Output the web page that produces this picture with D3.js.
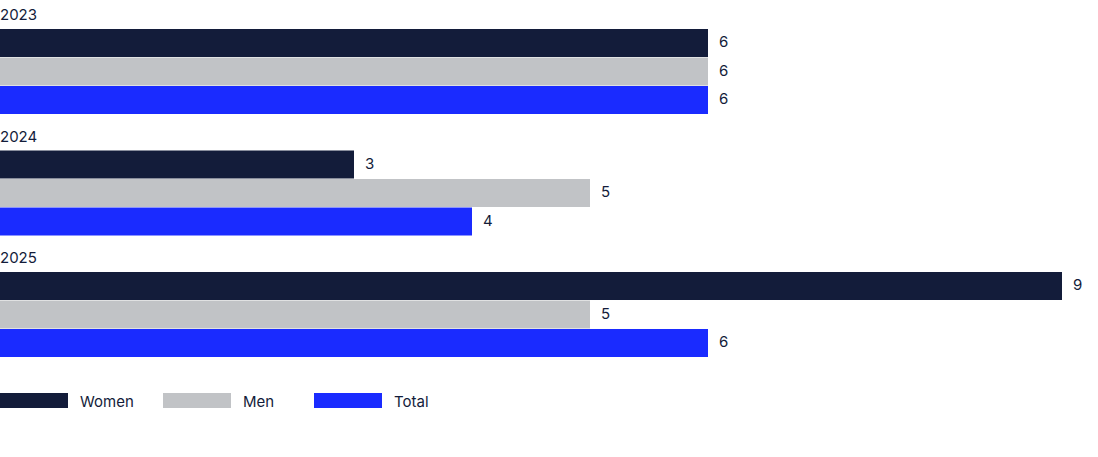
<!DOCTYPE html>
<html>
<head>
<meta charset="utf-8">
<script src="https://cdn.jsdelivr.net/npm/d3@7"></script>
<style>
  body { margin: 0; background: #fff; }
  text { font-family: Inter, "Noto Sans", sans-serif; fill: #131c3a; }
</style>
</head>
<body>
<div id="chart"></div>
<script>
// data
var years = ["2023", "2024", "2025"];
var series = ["Women", "Men", "Total"];
var women = [6, 3, 9];
var men = [6, 5, 5];
var total = [6, 4, 6];
var colors = ["#131c3a", "#c1c3c6", "#1a2bff"];

var svgwidth = 1098;
var svgheight = 457;

var svg = d3.select("#chart").append("svg")
  .attr("width", svgwidth)
  .attr("height", svgheight);

// group positions (each group = year label + three bars)
var yscale = d3.scaleBand()
  .domain(years)
  .range([29, 29 + 3 * 121.5]);

var inner = d3.scaleBand()
  .domain(series)
  .range([0, 85.5]);

var xscale = d3.scaleLinear()
  .domain([0, 9])
  .range([0, 1062]);

var rows = [];
years.forEach(function(y, i) {
  rows.push({year: y, key: "Women", value: women[i]});
  rows.push({year: y, key: "Men", value: men[i]});
  rows.push({year: y, key: "Total", value: total[i]});
});

var color = d3.scaleOrdinal().domain(series).range(colors);

// year labels
svg.selectAll(".year").data(years).enter()
  .append("text")
  .attr("class", "year")
  .attr("x", 0)
  .attr("y", d => yscale(d) - 9)
  .attr("font-size", "15px")
  .text(d => d);

// bars
svg.selectAll("rect.bar").data(rows).enter()
  .append("rect")
  .attr("class", "bar")
  .attr("x", xscale(0))
  .attr("y", d => yscale(d.year) + inner(d.key))
  .attr("width", d => xscale(d.value))
  .attr("height", inner.bandwidth() - 0.5)
  .attr("fill", d => color(d.key));

// value labels
svg.selectAll("text.val").data(rows).enter()
  .append("text")
  .attr("class", "val")
  .attr("x", d => xscale(d.value) + 11)
  .attr("y", d => yscale(d.year) + inner(d.key) + inner.bandwidth() / 2 - 1.5)
  .attr("dy", "0.35em")
  .attr("font-size", "15px")
  .text(d => d.value);

// legend
var legendx = [0, 163, 314];
var legend = svg.selectAll(".legend").data(series).enter()
  .append("g")
  .attr("class", "legend")
  .attr("transform", (d, i) => `translate(${legendx[i]}, 393)`);

legend.append("rect")
  .attr("width", 68)
  .attr("height", 15)
  .attr("fill", d => color(d));

legend.append("text")
  .attr("x", 80)
  .attr("y", 9)
  .attr("dy", "0.35em")
  .attr("font-size", "15px")
  .text(d => d);
</script>
</body>
</html>
